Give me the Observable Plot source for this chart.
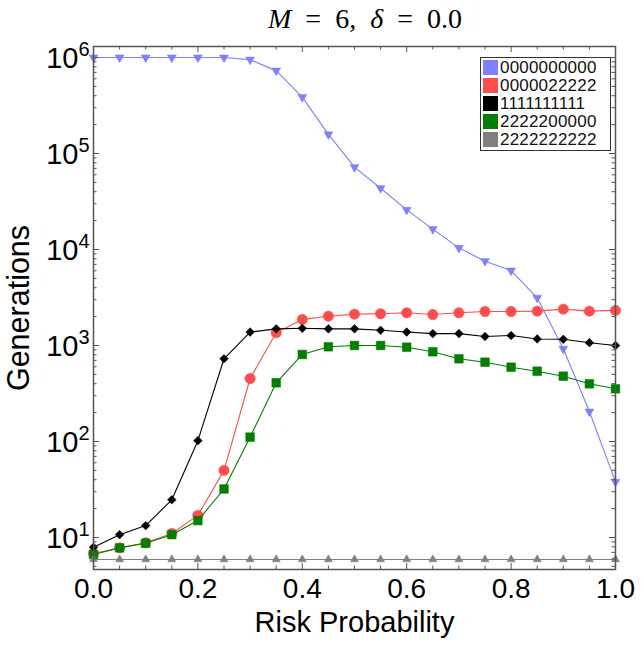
<!DOCTYPE html>
<html>
<head>
<meta charset="utf-8">
<script src="https://cdn.jsdelivr.net/npm/d3@7"></script>
<script src="https://cdn.jsdelivr.net/npm/@observablehq/plot@0.6"></script>
<style>
  body { margin: 0; background: #fff; }
  #wrap { position: relative; width: 644px; height: 647px; font-family: "Liberation Sans", Arial, sans-serif; }
  #title { position: absolute; top: 5px; left: 0; width: 730px; text-align: center; font-family: "Liberation Serif", "DejaVu Serif", serif; font-size: 28px; line-height: 28px; color: #000; white-space: nowrap; }
  #title .sp { display: inline-block; width: 14px; }
  #legend { position: absolute; left: 480px; top: 57px; width: 127px; height: 91px; border: 1px solid #333; background: #fff; padding: 1px 0 0 2px; box-sizing: content-box; }
  #legend .row { display: flex; align-items: center; height: 17.8px; font-size: 17px; line-height: 17px; color: #111; }
  #legend .sw { width: 15px; height: 15px; margin-right: 2px; flex: none; }
  #legend .lab { letter-spacing: 0.2px; }
</style>
</head>
<body>
<div id="wrap">
  <div id="title"><i>M</i><span class="sp"></span>=<span class="sp"></span>6,&nbsp; <i>δ</i><span class="sp"></span>=<span class="sp"></span>0.0</div>
  <div id="legend"></div>
</div>
<script>
// ---- data ----
const risk = [0.00, 0.05, 0.10, 0.15, 0.20, 0.25, 0.30, 0.35, 0.40, 0.45, 0.50,
              0.55, 0.60, 0.65, 0.70, 0.75, 0.80, 0.85, 0.90, 0.95, 1.00];
const series = ["0000000000", "0000022222", "1111111111", "2222200000", "2222222222"];
const colors = ["#7f7fff", "#ff4d4d", "#000000", "#007f00", "#808080"];
const gen0000000000 = [1.0e6, 1.0e6, 1.0e6, 1.0e6, 1.0e6, 1.0e6, 9.5e5, 7.3e5, 3.86e5, 1.58e5, 7.2e4,
                       4.35e4, 2.59e4, 1.63e4, 1.04e4, 7.56e3, 6.04e3, 3.14e3, 925, 205, 38];
const gen0000022222 = [6.8, 7.8, 8.8, 11, 17, 50, 453, 1360, 1870, 2020, 2120,
                       2140, 2190, 2100, 2190, 2260, 2260, 2280, 2390, 2280, 2320];
const gen1111111111 = [7.9, 10.7, 13.3, 24.7, 102, 727, 1380, 1490, 1510, 1490, 1490,
                       1440, 1380, 1330, 1330, 1240, 1270, 1170, 1160, 1070, 1000];
const gen2222200000 = [6.66, 7.8, 8.7, 10.7, 15, 32, 111, 409, 806, 970, 1000,
                       1000, 960, 860, 727, 670, 594, 540, 479, 399, 354];
const gen2222222222 = [5.9, 5.9, 5.9, 5.9, 5.9, 5.9, 5.9, 5.9, 5.9, 5.9, 5.9,
                       5.9, 5.9, 5.9, 5.9, 5.9, 5.9, 5.9, 5.9, 5.9, 5.9];
const xTickLabels = [0.0, 0.2, 0.4, 0.6, 0.8, 1.0];
const yTickExponents = [1, 2, 3, 4, 5, 6];

// ---- layout ----
const W = 644, H = 647, mL = 93, mR = 29, mT = 46, mB = 78;
const innerW = W - mL - mR, innerH = H - mT - mB;
const yDomain = [4.64, 1.302e6];

const triangleDown = {
  draw(context, size) {
    const y = -Math.sqrt(size / (Math.sqrt(3) * 3));
    context.moveTo(0, -y * 2);
    context.lineTo(-Math.sqrt(3) * y, y);
    context.lineTo(Math.sqrt(3) * y, y);
    context.closePath();
  }
};

const allSeries = [gen0000000000, gen0000022222, gen1111111111, gen2222200000, gen2222222222];
const symbols = [triangleDown, "circle", "diamond2", "square", "triangle"];
const radii = [3.3, 5.2, 3.9, 4.9, 3.0];
const rows = allSeries.map(vals => risk.map((r, i) => ({risk: r, gen: vals[i]})));

// tick positions (axis decoration)
const xAll = d3.range(0, 1.0001, 0.05).map(v => +v.toFixed(2));
const xMinor = xAll.filter(v => !xTickLabels.includes(v));
const yMajor = yTickExponents.map(e => Math.pow(10, e));
const yMinor = [];
for (let e = 0; e <= 6; e++) for (let m = 2; m <= 9; m++) {
  const v = m * Math.pow(10, e);
  if (v > yDomain[0] && v < yDomain[1]) yMinor.push(v);
}

const tickColor = "#555";
const marks = [];
rows.forEach((data, k) => {
  marks.push(Plot.line(data, {x: "risk", y: "gen", stroke: colors[k], strokeWidth: 1.1}));
  marks.push(Plot.dot(data, {x: "risk", y: "gen", symbol: () => symbols[k], r: radii[k], fill: colors[k], stroke: colors[k], strokeWidth: 0.5}));
});
const majL = 6, minL = 3.5;
marks.push(
  Plot.tickX(xMinor, {x: d => d, stroke: tickColor, insetTop: innerH - minL}),
  Plot.tickX(xMinor, {x: d => d, stroke: tickColor, insetBottom: innerH - minL}),
  Plot.tickX(xTickLabels, {x: d => d, stroke: tickColor, insetTop: innerH - majL}),
  Plot.tickX(xTickLabels, {x: d => d, stroke: tickColor, insetBottom: innerH - majL}),
  Plot.tickY(yMinor, {y: d => d, stroke: tickColor, insetRight: innerW - minL}),
  Plot.tickY(yMinor, {y: d => d, stroke: tickColor, insetLeft: innerW - minL}),
  Plot.tickY(yMajor, {y: d => d, stroke: tickColor, insetRight: innerW - majL}),
  Plot.tickY(yMajor, {y: d => d, stroke: tickColor, insetLeft: innerW - majL}),
  Plot.frame({stroke: "#555", strokeWidth: 1.5}),
  Plot.axisX(xTickLabels, {tickSize: 0, tickPadding: 9, tickFormat: d3.format(".1f"), fontSize: 28, fill: "#000", label: null}),
  Plot.text(yMajor, {y: d => d, frameAnchor: "left", text: () => "10", textAnchor: "end", lineAnchor: "middle", dx: -15, dy: 1.5, fontSize: 29, fill: "#000"}),
  Plot.text(yMajor, {y: d => d, frameAnchor: "left", text: d => String(Math.round(Math.log10(d))), textAnchor: "end", lineAnchor: "middle", dx: -4, dy: -8, fontSize: 20, fill: "#000"}),
  Plot.text(["Generations"], {frameAnchor: "left", text: d => d, rotate: -90, textAnchor: "middle", lineAnchor: "middle", dx: -74, fontSize: 30.5, fill: "#000"}),
  Plot.text(["Risk Probability"], {frameAnchor: "bottom", text: d => d, textAnchor: "middle", lineAnchor: "middle", dy: 53.7, fontSize: 29, fill: "#000"})
);

const chart = Plot.plot({
  width: W, height: H,
  marginLeft: mL, marginRight: mR, marginTop: mT, marginBottom: mB,
  style: {fontFamily: "'Liberation Sans', Arial, sans-serif", background: "#fff", overflow: "visible"},
  x: {domain: [0, 1], axis: null},
  y: {type: "log", domain: yDomain, axis: null},
  marks
});
const wrap = document.getElementById("wrap");
wrap.insertBefore(chart, wrap.firstChild);

const legend = document.getElementById("legend");
series.forEach((name, k) => {
  const row = document.createElement("div");
  row.className = "row";
  row.innerHTML = `<span class="sw" style="background:${colors[k]}"></span><span class="lab">${name}</span>`;
  legend.appendChild(row);
});
</script>
</body>
</html>
